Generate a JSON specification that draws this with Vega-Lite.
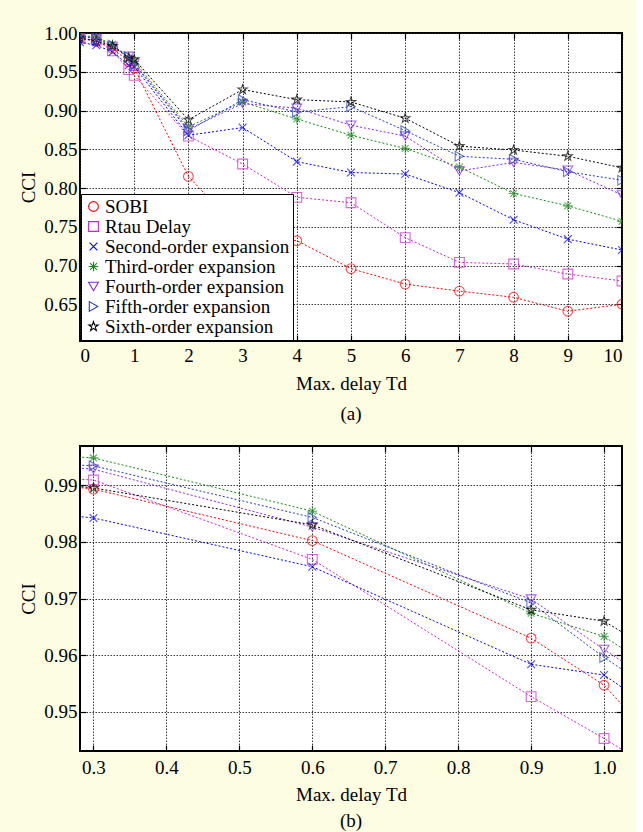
{
  "$schema": "https://vega.github.io/schema/vega-lite/v6.json",
  "background": "#fdfde2",
  "padding": {"left": 18, "top": 23, "right": 12, "bottom": 0},
  "config": {
    "font": "Liberation Serif",
    "view": {"fill": "white", "stroke": "black", "strokeWidth": 2},
    "axis": {
      "labelFont": "Liberation Serif", "labelFontSize": 19, "labelColor": "black",
      "titleFont": "Liberation Serif", "titleFontSize": 19, "titleFontWeight": "normal", "titleColor": "black",
      "gridColor": "#222222", "gridDash": [1.5, 1.5], "gridOpacity": 0.9, "gridWidth": 1,
      "domain": false, "tickColor": "black", "tickSize": -6, "tickWidth": 1.2
    },
    "legend": {"labelFont": "Liberation Serif", "labelFontSize": 19, "labelColor": "black", "labelLimit": 300},
    "title": {"font": "Liberation Serif", "fontSize": 19, "fontWeight": "normal", "color": "black", "orient": "bottom", "anchor": "middle", "offset": 12},
    "concat": {"spacing": 19}
  },
  "resolve": {"scale": {"color": "independent", "shape": "independent"}, "legend": {"color": "independent", "shape": "independent"}},
  "datasets": {
    "cci": [
      {"series": "SOBI", "delay": 0, "cci": 0.9935}, {"series": "SOBI", "delay": 0.3, "cci": 0.9893}, {"series": "SOBI", "delay": 0.6, "cci": 0.9802}, {"series": "SOBI", "delay": 0.9, "cci": 0.963}, {"series": "SOBI", "delay": 1, "cci": 0.9547}, {"series": "SOBI", "delay": 2, "cci": 0.815}, {"series": "SOBI", "delay": 3, "cci": 0.74}, {"series": "SOBI", "delay": 4, "cci": 0.732}, {"series": "SOBI", "delay": 5, "cci": 0.696}, {"series": "SOBI", "delay": 6, "cci": 0.676}, {"series": "SOBI", "delay": 7, "cci": 0.667}, {"series": "SOBI", "delay": 8, "cci": 0.659}, {"series": "SOBI", "delay": 9, "cci": 0.641}, {"series": "SOBI", "delay": 10, "cci": 0.65},
      {"series": "Rtau Delay", "delay": 0, "cci": 0.993}, {"series": "Rtau Delay", "delay": 0.3, "cci": 0.9909}, {"series": "Rtau Delay", "delay": 0.6, "cci": 0.9769}, {"series": "Rtau Delay", "delay": 0.9, "cci": 0.9527}, {"series": "Rtau Delay", "delay": 1, "cci": 0.9453}, {"series": "Rtau Delay", "delay": 2, "cci": 0.867}, {"series": "Rtau Delay", "delay": 3, "cci": 0.831}, {"series": "Rtau Delay", "delay": 4, "cci": 0.788}, {"series": "Rtau Delay", "delay": 5, "cci": 0.781}, {"series": "Rtau Delay", "delay": 6, "cci": 0.736}, {"series": "Rtau Delay", "delay": 7, "cci": 0.704}, {"series": "Rtau Delay", "delay": 8, "cci": 0.702}, {"series": "Rtau Delay", "delay": 9, "cci": 0.689}, {"series": "Rtau Delay", "delay": 10, "cci": 0.68},
      {"series": "Second-order expansion", "delay": 0, "cci": 0.9881}, {"series": "Second-order expansion", "delay": 0.3, "cci": 0.9842}, {"series": "Second-order expansion", "delay": 0.6, "cci": 0.9756}, {"series": "Second-order expansion", "delay": 0.9, "cci": 0.9584}, {"series": "Second-order expansion", "delay": 1, "cci": 0.9565}, {"series": "Second-order expansion", "delay": 2, "cci": 0.868}, {"series": "Second-order expansion", "delay": 3, "cci": 0.878}, {"series": "Second-order expansion", "delay": 4, "cci": 0.834}, {"series": "Second-order expansion", "delay": 5, "cci": 0.82}, {"series": "Second-order expansion", "delay": 6, "cci": 0.818}, {"series": "Second-order expansion", "delay": 7, "cci": 0.794}, {"series": "Second-order expansion", "delay": 8, "cci": 0.759}, {"series": "Second-order expansion", "delay": 9, "cci": 0.734}, {"series": "Second-order expansion", "delay": 10, "cci": 0.72},
      {"series": "Third-order expansion", "delay": 0, "cci": 0.997}, {"series": "Third-order expansion", "delay": 0.3, "cci": 0.9948}, {"series": "Third-order expansion", "delay": 0.6, "cci": 0.9854}, {"series": "Third-order expansion", "delay": 0.9, "cci": 0.9674}, {"series": "Third-order expansion", "delay": 1, "cci": 0.9633}, {"series": "Third-order expansion", "delay": 2, "cci": 0.879}, {"series": "Third-order expansion", "delay": 3, "cci": 0.911}, {"series": "Third-order expansion", "delay": 4, "cci": 0.889}, {"series": "Third-order expansion", "delay": 5, "cci": 0.868}, {"series": "Third-order expansion", "delay": 6, "cci": 0.851}, {"series": "Third-order expansion", "delay": 7, "cci": 0.827}, {"series": "Third-order expansion", "delay": 8, "cci": 0.793}, {"series": "Third-order expansion", "delay": 9, "cci": 0.777}, {"series": "Third-order expansion", "delay": 10, "cci": 0.757},
      {"series": "Fourth-order expansion", "delay": 0, "cci": 0.9958}, {"series": "Fourth-order expansion", "delay": 0.3, "cci": 0.9928}, {"series": "Fourth-order expansion", "delay": 0.6, "cci": 0.9826}, {"series": "Fourth-order expansion", "delay": 0.9, "cci": 0.9699}, {"series": "Fourth-order expansion", "delay": 1, "cci": 0.961}, {"series": "Fourth-order expansion", "delay": 2, "cci": 0.876}, {"series": "Fourth-order expansion", "delay": 3, "cci": 0.909}, {"series": "Fourth-order expansion", "delay": 4, "cci": 0.903}, {"series": "Fourth-order expansion", "delay": 5, "cci": 0.881}, {"series": "Fourth-order expansion", "delay": 6, "cci": 0.867}, {"series": "Fourth-order expansion", "delay": 7, "cci": 0.822}, {"series": "Fourth-order expansion", "delay": 8, "cci": 0.833}, {"series": "Fourth-order expansion", "delay": 9, "cci": 0.823}, {"series": "Fourth-order expansion", "delay": 10, "cci": 0.791},
      {"series": "Fifth-order expansion", "delay": 0, "cci": 0.9955}, {"series": "Fifth-order expansion", "delay": 0.3, "cci": 0.9934}, {"series": "Fifth-order expansion", "delay": 0.6, "cci": 0.9843}, {"series": "Fifth-order expansion", "delay": 0.9, "cci": 0.9692}, {"series": "Fifth-order expansion", "delay": 1, "cci": 0.9596}, {"series": "Fifth-order expansion", "delay": 2, "cci": 0.874}, {"series": "Fifth-order expansion", "delay": 3, "cci": 0.914}, {"series": "Fifth-order expansion", "delay": 4, "cci": 0.898}, {"series": "Fifth-order expansion", "delay": 5, "cci": 0.905}, {"series": "Fifth-order expansion", "delay": 6, "cci": 0.874}, {"series": "Fifth-order expansion", "delay": 7, "cci": 0.841}, {"series": "Fifth-order expansion", "delay": 8, "cci": 0.837}, {"series": "Fifth-order expansion", "delay": 9, "cci": 0.821}, {"series": "Fifth-order expansion", "delay": 10, "cci": 0.81},
      {"series": "Sixth-order expansion", "delay": 0, "cci": 0.9935}, {"series": "Sixth-order expansion", "delay": 0.3, "cci": 0.9895}, {"series": "Sixth-order expansion", "delay": 0.6, "cci": 0.983}, {"series": "Sixth-order expansion", "delay": 0.9, "cci": 0.968}, {"series": "Sixth-order expansion", "delay": 1, "cci": 0.966}, {"series": "Sixth-order expansion", "delay": 2, "cci": 0.888}, {"series": "Sixth-order expansion", "delay": 3, "cci": 0.927}, {"series": "Sixth-order expansion", "delay": 4, "cci": 0.914}, {"series": "Sixth-order expansion", "delay": 5, "cci": 0.911}, {"series": "Sixth-order expansion", "delay": 6, "cci": 0.89}, {"series": "Sixth-order expansion", "delay": 7, "cci": 0.854}, {"series": "Sixth-order expansion", "delay": 8, "cci": 0.849}, {"series": "Sixth-order expansion", "delay": 9, "cci": 0.841}, {"series": "Sixth-order expansion", "delay": 10, "cci": 0.826}
    ]
  },
  "vconcat": [
    {
      "width": 542,
      "height": 308,
      "title": {"text": "(a)", "orient": "bottom"},
      "data": {"name": "cci"},
      "resolve": {"axis": {"x": "independent", "y": "independent"}},
      "layer": [
        {
          "mark": {"type": "point", "filled": false, "strokeWidth": 1.1, "size": 95, "clip": true},
          "encoding": {
            "x": {"field": "delay", "type": "quantitative", "scale": {"domain": [0, 10], "nice": false, "zero": false}, "axis": {"values": [0,1,2,3,4,5,6,7,8,9,10], "format": "d", "title": "Max. delay Td", "labelPadding": 11, "titlePadding": 9}},
            "y": {"field": "cci", "type": "quantitative", "scale": {"domain": [0.6026, 1.0], "nice": false, "zero": false}, "axis": {"values": [0.65,0.7,0.75,0.8,0.85,0.9,0.95,1.0], "format": ".2f", "title": "CCI", "labelPadding": 9, "titlePadding": 5}},
            "color": {"field": "series", "type": "nominal",
              "scale": {"domain": ["SOBI", "Rtau Delay", "Second-order expansion", "Third-order expansion", "Fourth-order expansion", "Fifth-order expansion", "Sixth-order expansion"],
                        "range": ["#ff0000", "#cc22cc", "#0000ff", "#178c17", "#8822ee", "#1f3fbf", "#000000"]},
              "legend": {"title": null, "orient": "bottom-left", "offset": 1, "padding": 3, "rowPadding": 0, "labelOffset": 2, "labelFont": "Liberation Serif", "labelFontSize": 19, "labelColor": "black", "labelLimit": 300, "symbolSize": 95, "symbolStrokeWidth": 1.1, "fillColor": "white", "strokeColor": "black", "symbolOpacity": 1}},
            "shape": {"field": "series", "type": "nominal",
              "scale": {"domain": ["SOBI", "Rtau Delay", "Second-order expansion", "Third-order expansion", "Fourth-order expansion", "Fifth-order expansion", "Sixth-order expansion"],
                        "range": ["circle", "square", "M-0.8,-0.8L0.8,0.8M-0.8,0.8L0.8,-0.8", "M0,-1L0,1M-1,0L1,0M-0.7,-0.7L0.7,0.7M-0.7,0.7L0.7,-0.7", "triangle-down", "triangle-right", "M0,-1L0.2245,-0.309L0.951,-0.309L0.363,0.118L0.588,0.809L0,0.382L-0.588,0.809L-0.363,0.118L-0.951,-0.309L-0.2245,-0.309Z"]},
              "legend": {"title": null, "orient": "bottom-left", "offset": 1, "padding": 3, "rowPadding": 0, "labelOffset": 2, "labelFont": "Liberation Serif", "labelFontSize": 19, "labelColor": "black", "labelLimit": 300, "symbolSize": 95, "symbolStrokeWidth": 1.1, "fillColor": "white", "strokeColor": "black", "symbolOpacity": 1}}
          }
        },
        {
          "mark": {"type": "line", "strokeDash": [2, 2], "strokeWidth": 1, "clip": true},
          "encoding": {
            "x": {"field": "delay", "type": "quantitative", "axis": {"orient": "top", "values": [0,1,2,3,4,5,6,7,8,9,10], "labels": false, "grid": false, "title": null}},
            "y": {"field": "cci", "type": "quantitative", "axis": {"orient": "right", "values": [0.65,0.7,0.75,0.8,0.85,0.9,0.95,1.0], "labels": false, "grid": false, "title": null}},
            "color": {"field": "series", "type": "nominal",
              "scale": {"domain": ["SOBI", "Rtau Delay", "Second-order expansion", "Third-order expansion", "Fourth-order expansion", "Fifth-order expansion", "Sixth-order expansion"],
                        "range": ["#ff0000", "#cc22cc", "#0000ff", "#178c17", "#8822ee", "#1f3fbf", "#000000"]},
              "legend": {"title": null, "orient": "bottom-left", "offset": 1, "padding": 3, "rowPadding": 0, "labelOffset": 2, "labelFont": "Liberation Serif", "labelFontSize": 19, "labelColor": "black", "labelLimit": 300, "symbolSize": 95, "symbolStrokeWidth": 1.1, "fillColor": "white", "strokeColor": "black", "symbolOpacity": 1}}
          }
        }
      ]
    },
    {
      "width": 542,
      "height": 305,
      "title": {"text": "(b)", "orient": "bottom", "offset": 8},
      "data": {"name": "cci"},
      "resolve": {"axis": {"x": "independent", "y": "independent"}},
      "layer": [
        {
          "mark": {"type": "line", "strokeDash": [2, 2], "strokeWidth": 1, "clip": true},
          "encoding": {
            "x": {"field": "delay", "type": "quantitative", "scale": {"domain": [0.2815, 1.0246], "nice": false, "zero": false}, "axis": {"values": [0.3,0.4,0.5,0.6,0.7,0.8,0.9,1.0], "format": ".1f", "title": "Max. delay Td", "labelPadding": 13, "titlePadding": 8}},
            "y": {"field": "cci", "type": "quantitative", "scale": {"domain": [0.9431, 0.9969], "nice": false, "zero": false}, "axis": {"values": [0.95,0.96,0.97,0.98,0.99], "format": ".2f", "title": "CCI", "labelPadding": 9, "titlePadding": 5}},
            "color": {"field": "series", "type": "nominal", "legend": null,
              "scale": {"domain": ["SOBI", "Rtau Delay", "Second-order expansion", "Third-order expansion", "Fourth-order expansion", "Fifth-order expansion", "Sixth-order expansion"],
                        "range": ["#ff0000", "#cc22cc", "#0000ff", "#178c17", "#8822ee", "#1f3fbf", "#000000"]}}
          }
        },
        {
          "mark": {"type": "point", "filled": false, "strokeWidth": 1.1, "size": 95, "clip": true},
          "encoding": {
            "x": {"field": "delay", "type": "quantitative", "axis": {"orient": "top", "values": [0.3,0.4,0.5,0.6,0.7,0.8,0.9,1.0], "labels": false, "grid": false, "title": null}},
            "y": {"field": "cci", "type": "quantitative", "axis": {"orient": "right", "values": [0.95,0.96,0.97,0.98,0.99], "labels": false, "grid": false, "title": null}},
            "color": {"field": "series", "type": "nominal", "legend": null,
              "scale": {"domain": ["SOBI", "Rtau Delay", "Second-order expansion", "Third-order expansion", "Fourth-order expansion", "Fifth-order expansion", "Sixth-order expansion"],
                        "range": ["#ff0000", "#cc22cc", "#0000ff", "#178c17", "#8822ee", "#1f3fbf", "#000000"]}},
            "shape": {"field": "series", "type": "nominal", "legend": null,
              "scale": {"domain": ["SOBI", "Rtau Delay", "Second-order expansion", "Third-order expansion", "Fourth-order expansion", "Fifth-order expansion", "Sixth-order expansion"],
                        "range": ["circle", "square", "M-0.8,-0.8L0.8,0.8M-0.8,0.8L0.8,-0.8", "M0,-1L0,1M-1,0L1,0M-0.7,-0.7L0.7,0.7M-0.7,0.7L0.7,-0.7", "triangle-down", "triangle-right", "M0,-1L0.2245,-0.309L0.951,-0.309L0.363,0.118L0.588,0.809L0,0.382L-0.588,0.809L-0.363,0.118L-0.951,-0.309L-0.2245,-0.309Z"]}}
          }
        }
      ]
    }
  ]
}
